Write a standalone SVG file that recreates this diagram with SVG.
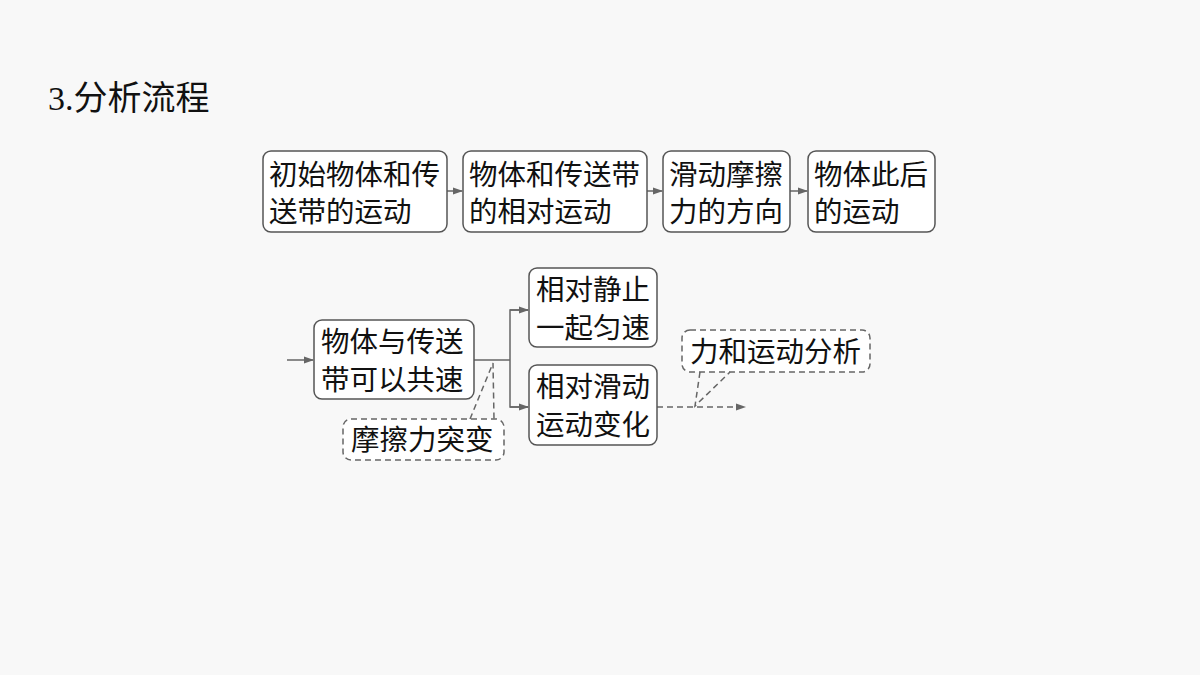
<svg xmlns="http://www.w3.org/2000/svg" width="1200" height="675" viewBox="0 0 1200 675">
<defs>
<style>
.bg{fill:#f8f8f8}
.box{fill:#ffffff;stroke:#555;stroke-width:1.5}
.call{fill:#ffffff;stroke:#666;stroke-width:1.5;stroke-dasharray:6 4}
.t{font-family:"Noto Sans CJK SC","Noto Sans",sans-serif;font-size:28.5px;fill:#111}
.ln{fill:none;stroke:#666;stroke-width:1.5}
.dl{fill:none;stroke:#666;stroke-width:1.5;stroke-dasharray:6 4}
</style>
<marker id="ah" markerWidth="10" markerHeight="8" refX="9" refY="4" orient="auto" markerUnits="userSpaceOnUse">
<path d="M0,0.5 L10,4 L0,7.5 Z" fill="#666"/>
</marker>
</defs>
<rect class="bg" x="0" y="0" width="1200" height="675"/>
<text x="48" y="110" font-size="34" fill="#111"><tspan font-family="Liberation Serif,serif">3.</tspan><tspan font-family="Noto Sans CJK SC,sans-serif">分析流程</tspan></text>

<g id="connectors">
<line class="ln" x1="447" y1="191" x2="462" y2="191" marker-end="url(#ah)"/>
<line class="ln" x1="647" y1="191" x2="662" y2="191" marker-end="url(#ah)"/>
<line class="ln" x1="790" y1="191" x2="807" y2="191" marker-end="url(#ah)"/>
<line class="ln" x1="287" y1="360" x2="313" y2="360" marker-end="url(#ah)"/>
<polyline class="ln" points="474,360 510,360"/>
<polyline class="ln" points="528,310 510,310 510,407 528,407"/>
<line class="ln" x1="510" y1="310" x2="528" y2="310" marker-end="url(#ah)"/>
<line class="ln" x1="510" y1="407" x2="528" y2="407" marker-end="url(#ah)"/>
<line class="dl" x1="657" y1="407" x2="745" y2="407" marker-end="url(#ah)"/>
</g>

<g id="n1"><rect class="box" x="263" y="151" width="184" height="81" rx="8"/>
<text class="t" x="269" y="185">初始物体和传</text><text class="t" x="269" y="222">送带的运动</text></g>
<g id="n2"><rect class="box" x="463" y="151" width="184" height="81" rx="8"/>
<text class="t" x="469" y="185">物体和传送带</text><text class="t" x="469" y="222">的相对运动</text></g>
<g id="n3"><rect class="box" x="663" y="151" width="127" height="81" rx="8"/>
<text class="t" x="669" y="185">滑动摩擦</text><text class="t" x="669" y="222">力的方向</text></g>
<g id="n4"><rect class="box" x="808" y="151" width="127" height="81" rx="8"/>
<text class="t" x="814" y="185">物体此后</text><text class="t" x="814" y="222">的运动</text></g>

<g id="n5"><rect class="box" x="314" y="320" width="160" height="79" rx="8"/>
<text class="t" x="321" y="352">物体与传送</text><text class="t" x="321" y="390">带可以共速</text></g>
<g id="n6"><rect class="box" x="529" y="268" width="128" height="79" rx="8"/>
<text class="t" x="536" y="300">相对静止</text><text class="t" x="536" y="338">一起匀速</text></g>
<g id="n7"><rect class="box" x="529" y="365" width="128" height="80" rx="8"/>
<text class="t" x="536" y="397">相对滑动</text><text class="t" x="536" y="435">运动变化</text></g>

<g id="c1">
<rect class="call" x="343" y="419" width="161" height="41" rx="8"/>
<polyline class="dl" points="470,419 493,363 494,419"/>
<text class="t" x="351" y="450">摩擦力突变</text>
</g>
<g id="c2">
<rect class="call" x="682" y="330" width="188" height="42" rx="8"/>
<polyline class="dl" points="700,372 695,406 730,372"/>
<text class="t" x="690" y="362">力和运动分析</text>
</g>
</svg>
